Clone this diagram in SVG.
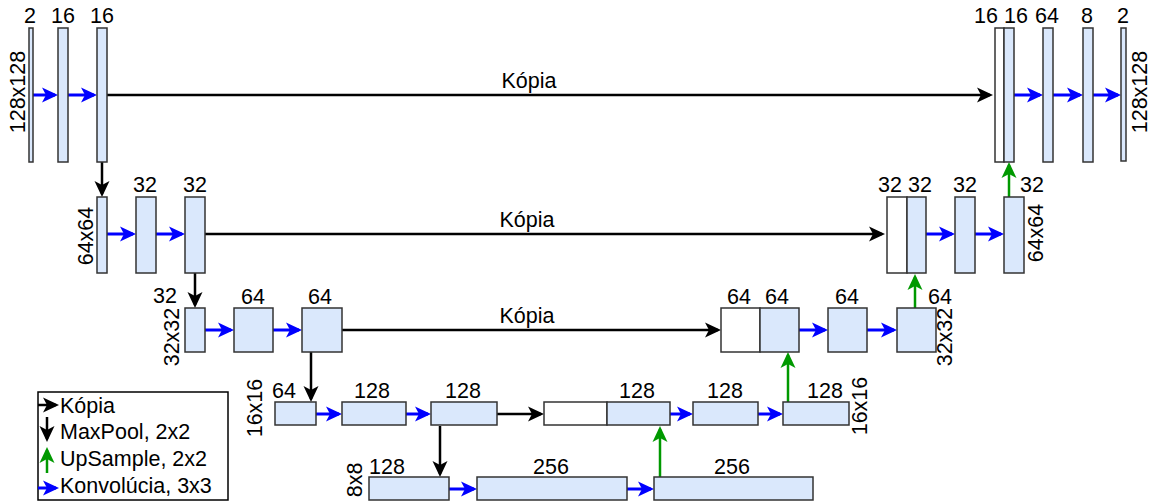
<svg xmlns="http://www.w3.org/2000/svg" width="1153" height="502" viewBox="0 0 1153 502">
<style>
text{font-family:"Liberation Sans",Arial,sans-serif;font-size:21.5px;fill:#000}
.l{text-anchor:middle}
.r{text-anchor:middle;dominant-baseline:central}
.b{fill:#dae8fc;stroke:#333;stroke-width:1.5}
.w{fill:#fff;stroke:#333;stroke-width:1.5}
.cb{stroke:#00f;stroke-width:3;fill:none;marker-end:url(#ab)}
.ck{stroke:#000;stroke-width:2.5;fill:none;marker-end:url(#ak)}
.cg{stroke:#090;stroke-width:2.5;fill:none;marker-end:url(#ag)}
</style>
<defs>
<marker id="ab" viewBox="0 0 16 16" markerWidth="16" markerHeight="16" refX="13" refY="8" orient="auto" markerUnits="userSpaceOnUse"><path d="M0,0.5 L16,8 L0,15.5 L4,8 z" fill="#00f"/></marker>
<marker id="ak" viewBox="0 0 16 16" markerWidth="16" markerHeight="16" refX="13" refY="8" orient="auto" markerUnits="userSpaceOnUse"><path d="M0,0.5 L16,8 L0,15.5 L4,8 z" fill="#000"/></marker>
<marker id="ag" viewBox="0 0 16 16" markerWidth="16" markerHeight="16" refX="13" refY="8" orient="auto" markerUnits="userSpaceOnUse"><path d="M0,0.5 L16,8 L0,15.5 L4,8 z" fill="#090"/></marker>
</defs>

<g id="connectors">
<path class="ck" d="M107,95 H990"/>
<path class="cb" d="M33,95 H55"/>
<path class="cb" d="M68,95 H94"/>
<path class="cb" d="M1014,95 H1040"/>
<path class="cb" d="M1053,95 H1080"/>
<path class="cb" d="M1093,95 H1118"/>
<path class="ck" d="M102,162 V194"/>
<path class="ck" d="M205,234 H882"/>
<path class="cb" d="M107,234 H133"/>
<path class="cb" d="M156,234 H182"/>
<path class="cb" d="M926,234 H952"/>
<path class="cb" d="M975,234 H1001"/>
<path class="cg" d="M1009,197 V165"/>
<path class="ck" d="M195,273 V305"/>
<path class="ck" d="M342,330 H718"/>
<path class="cb" d="M205,330 H231"/>
<path class="cb" d="M273,330 H299"/>
<path class="cb" d="M799,330 H825"/>
<path class="cb" d="M867,330 H894"/>
<path class="cg" d="M915,308 V277"/>
<path class="ck" d="M311,352 V399"/>
<path class="ck" d="M497,414 H541"/>
<path class="cb" d="M316,414 H339"/>
<path class="cb" d="M406,414 H428"/>
<path class="cb" d="M670,414 H690"/>
<path class="cb" d="M758,414 H780"/>
<path class="cg" d="M788,402 V355"/>
<path class="ck" d="M440,426 V474"/>
<path class="cb" d="M449,489 H474"/>
<path class="cb" d="M627,489 H651"/>
<path class="cg" d="M660,477 V429"/>
<text class="l" x="529" y="88">Kópia</text>
<text class="l" x="527" y="227">Kópia</text>
<text class="l" x="527" y="323">Kópia</text>
</g>

<g id="row1-left">
<g id="n1a"><rect class="b" x="29" y="28" width="4" height="134"/><text class="l" x="30" y="23">2</text></g>
<g id="n1b"><rect class="b" x="58" y="28" width="10" height="134"/><text class="l" x="63" y="23">16</text></g>
<g id="n1c"><rect class="b" x="97" y="28" width="10" height="134"/><text class="l" x="102" y="23">16</text></g>
<text class="r" transform="translate(18,92) rotate(-90)">128x128</text>
</g>

<g id="row1-right">
<g id="n1d"><rect class="w" x="995" y="28" width="9" height="134"/><text class="l" x="986" y="23">16</text></g>
<g id="n1e"><rect class="b" x="1004" y="28" width="10" height="134"/><text class="l" x="1016" y="23">16</text></g>
<g id="n1f"><rect class="b" x="1043" y="28" width="10" height="134"/><text class="l" x="1047" y="23">64</text></g>
<g id="n1g"><rect class="b" x="1083" y="28" width="10" height="134"/><text class="l" x="1087" y="23">8</text></g>
<g id="n1h"><rect class="b" x="1121" y="28" width="5" height="133"/><text class="l" x="1123" y="23">2</text></g>
<text class="r" transform="translate(1140,92) rotate(-90)">128x128</text>
</g>

<g id="row2-left">
<g id="n2a"><rect class="b" x="97" y="197" width="10" height="76"/></g>
<g id="n2b"><rect class="b" x="136" y="197" width="20" height="76"/><text class="l" x="145" y="192">32</text></g>
<g id="n2c"><rect class="b" x="185" y="197" width="20" height="76"/><text class="l" x="195" y="192">32</text></g>
<text class="r" transform="translate(86,236) rotate(-90)">64x64</text>
</g>

<g id="row2-right">
<g id="n2d"><rect class="w" x="887" y="197" width="20" height="76"/><text class="l" x="890" y="192">32</text></g>
<g id="n2e"><rect class="b" x="907" y="197" width="19" height="76"/><text class="l" x="920" y="192">32</text></g>
<g id="n2f"><rect class="b" x="955" y="197" width="20" height="76"/><text class="l" x="965" y="192">32</text></g>
<g id="n2g"><rect class="b" x="1004" y="197" width="20" height="76"/><text class="l" x="1032" y="192">32</text></g>
<text class="r" transform="translate(1036,233) rotate(-90)">64x64</text>
</g>

<g id="row3-left">
<g id="n3a"><rect class="b" x="185" y="308" width="20" height="44"/><text class="l" x="165" y="303">32</text></g>
<g id="n3b"><rect class="b" x="234" y="308" width="39" height="44"/><text class="l" x="253" y="304">64</text></g>
<g id="n3c"><rect class="b" x="302" y="308" width="40" height="44"/><text class="l" x="320" y="304">64</text></g>
<text class="r" transform="translate(172,337) rotate(-90)">32x32</text>
</g>

<g id="row3-right">
<g id="n3d"><rect class="w" x="721" y="308" width="39" height="44"/><text class="l" x="739" y="304">64</text></g>
<g id="n3e"><rect class="b" x="760" y="308" width="39" height="44"/><text class="l" x="777" y="304">64</text></g>
<g id="n3f"><rect class="b" x="828" y="308" width="39" height="44"/><text class="l" x="847" y="304">64</text></g>
<g id="n3g"><rect class="b" x="897" y="308" width="39" height="44"/><text class="l" x="940" y="304">64</text></g>
<text class="r" transform="translate(945,337) rotate(-90)">32x32</text>
</g>

<g id="row4">
<g id="n4a"><rect class="b" x="275" y="402" width="41" height="23"/><text class="l" x="284" y="398">64</text></g>
<g id="n4b"><rect class="b" x="342" y="402" width="64" height="23"/><text class="l" x="372" y="398">128</text></g>
<g id="n4c"><rect class="b" x="431" y="402" width="66" height="23"/><text class="l" x="463" y="398">128</text></g>
<g id="n4d"><rect class="w" x="544" y="402" width="63" height="23"/></g>
<g id="n4e"><rect class="b" x="607" y="402" width="63" height="23"/><text class="l" x="637" y="398">128</text></g>
<g id="n4f"><rect class="b" x="693" y="402" width="65" height="23"/><text class="l" x="725" y="398">128</text></g>
<g id="n4g"><rect class="b" x="783" y="402" width="66" height="23"/><text class="l" x="825" y="398">128</text></g>
<text class="r" transform="translate(255,408) rotate(-90)">16x16</text>
<text class="r" transform="translate(860,406) rotate(-90)">16x16</text>
</g>

<g id="row5">
<g id="n5a"><rect class="b" x="369" y="477" width="80" height="23"/><text class="l" x="387" y="474">128</text></g>
<g id="n5b"><rect class="b" x="477" y="477" width="150" height="23"/><text class="l" x="551" y="474">256</text></g>
<g id="n5c"><rect class="b" x="654" y="477" width="159" height="23"/><text class="l" x="732" y="474">256</text></g>
<text class="r" transform="translate(355,480) rotate(-90)">8x8</text>
</g>

<g id="legend">
<rect x="38" y="392" width="190" height="108" fill="#fff" stroke="#000" stroke-width="1.5"/>
<path class="ck" d="M38,405 H56"/>
<path class="ck" d="M47,417 V439"/>
<path class="cg" d="M47,473 V450"/>
<path class="cb" d="M38,488 H56"/>
<text x="60" y="413">Kópia</text>
<text x="60" y="439">MaxPool, 2x2</text>
<text x="60" y="466">UpSample, 2x2</text>
<text x="60" y="493">Konvolúcia, 3x3</text>
</g>
</svg>
